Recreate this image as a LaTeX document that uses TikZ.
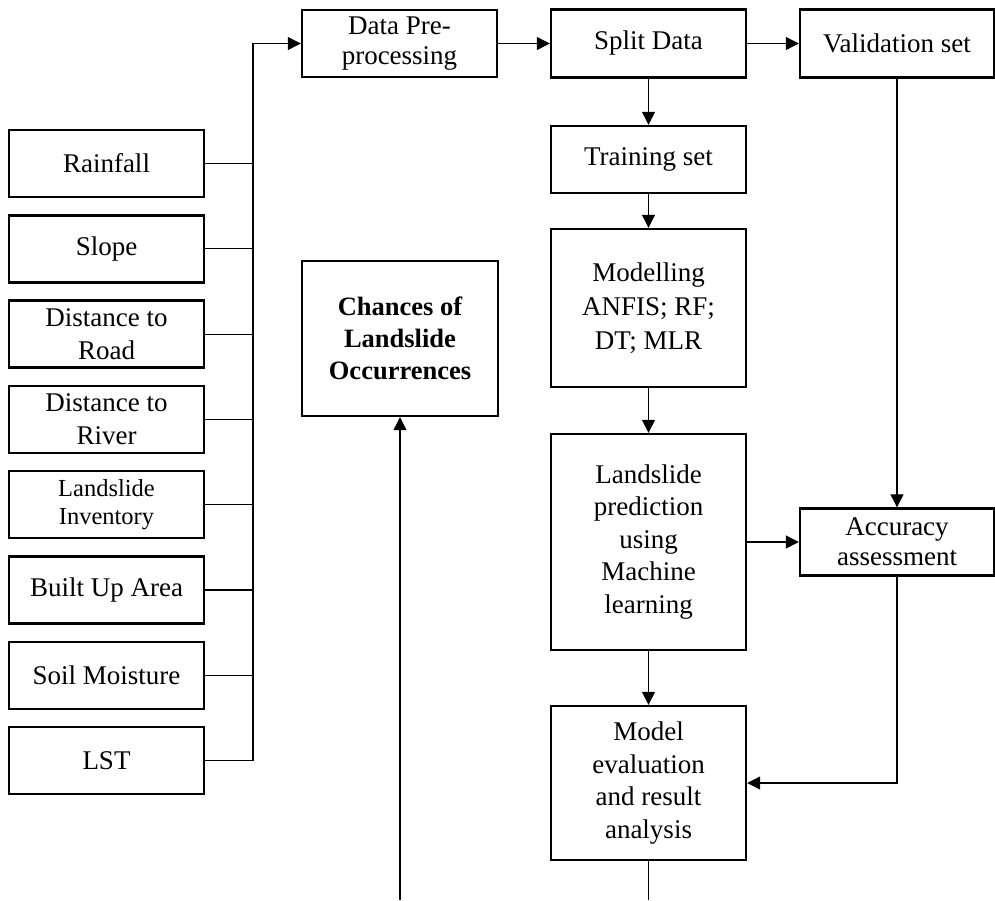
\documentclass[tikz,border=0pt]{standalone}
\usepackage{fontspec}
\setmainfont{Liberation Serif}
\usetikzlibrary{arrows.meta}
\begin{document}
\begin{tikzpicture}[x=1pt,y=-1pt,
  box/.style={draw, line width=2.4pt, inner sep=0pt, align=center,
    font=\fontsize{27}{32.5}\selectfont},
  inbox/.style={box, minimum width=195pt, minimum height=67pt},
  link/.style={line width=1.2pt},
  arr/.style={link, -{Triangle[length=13pt,width=13pt]}}]
\useasboundingbox (0,0) rectangle (995,900);

% input layers
\node[inbox] (rain)  at (106.5,163.5) {Rainfall};
\node[inbox] (slope) at (106.5,248.8) {Slope};
\node[inbox] (road)  at (106.5,334.1) {Distance to\\Road};
\node[inbox] (river) at (106.5,419.4) {Distance to\\River};
\node[inbox, font=\fontsize{24.5}{28}\selectfont] (inv) at (106.5,504.7) {Landslide\\Inventory};
\node[inbox] (built) at (106.5,590.0) {Built Up Area};
\node[inbox] (soil)  at (106.5,675.3) {Soil Moisture};
\node[inbox] (lst)   at (106.5,760.6) {LST};

% processing chain
\node[box, minimum width=195pt, minimum height=67pt, font=\fontsize{27}{30}\selectfont] (pre) at (399.5,43.5) {Data Pre-\\processing};
\node[box, minimum width=195pt, minimum height=68pt] (split) at (648.5,43.5) {Split Data};
\node[box, minimum width=194pt, minimum height=68pt] (val) at (897,43.5) {Validation set};
\node[box, minimum width=195pt, minimum height=67pt] (train) at (648.5,159.5) {Training set};
\node[box, minimum width=195pt, minimum height=158pt, font=\fontsize{27}{34}\selectfont] (model) at (648.5,308) {Modelling\\ANFIS; RF;\\DT; MLR};
\node[box, minimum width=195pt, minimum height=216pt] (pred) at (648.5,542) {Landslide\\prediction\\using\\Machine\\learning};
\node[box, minimum width=194pt, minimum height=67pt, font=\fontsize{27}{30}\selectfont] (acc) at (897,542) {Accuracy\\assessment};
\node[box, minimum width=195pt, minimum height=154pt] (eval) at (648.5,783) {Model\\evaluation\\and result\\analysis};
\node[box, minimum width=196pt, minimum height=155pt, font=\bfseries\fontsize{26.5}{32}\selectfont] (chance) at (400,338.5) {Chances of\\Landslide\\Occurrences};

% bus collecting the input layers
\coordinate (bustop) at (253,43.5);
\foreach \b in {rain,slope,road,river,inv,built,soil}
  \draw[link] (\b.east) -- (\b.east -| bustop);
\draw[arr] (lst.east) -| (bustop) -- (pre.west);

% flow arrows
\draw[arr] (pre.east) -- (split.west);
\draw[arr] (split.east) -- (val.west);
\draw[arr] (split.south) -- (train.north);
\draw[arr] (train.south) -- (model.north);
\draw[arr] (model.south) -- (pred.north);
\draw[arr] (pred.south) -- (eval.north);
\draw[arr] (pred.east) -- (acc.west);
\draw[arr] (val.south) -- (acc.north);
\draw[arr] (acc.south) |- (eval.east);

% open ends at the bottom edge
\coordinate (evalend) at (648.5,900);
\coordinate (chancefoot) at (400,900);
\draw[link] (eval.south) -- (evalend);
\draw[arr] (chancefoot) -- (chance.south);
\end{tikzpicture}
\end{document}
